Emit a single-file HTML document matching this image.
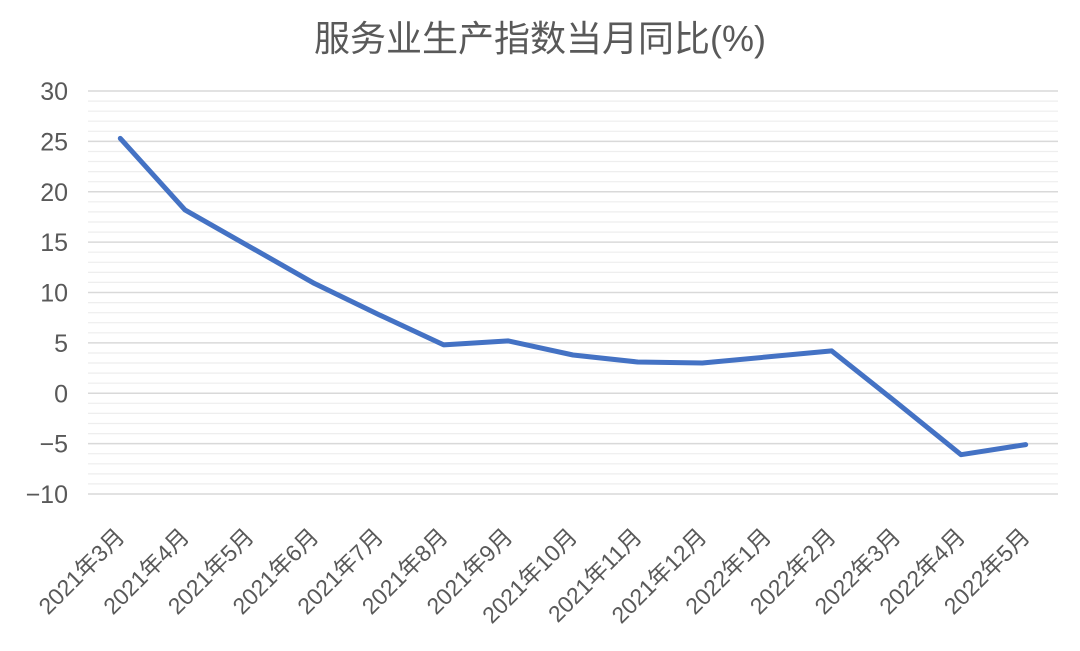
<!DOCTYPE html>
<html>
<head>
<meta charset="utf-8">
<style>
html,body{margin:0;padding:0;background:#fff;}
svg{display:block;}
text{font-family:"Liberation Sans","Noto Sans CJK SC",sans-serif;fill:#595959;}
</style>
</head>
<body>
<svg width="1080" height="651" viewBox="0 0 1080 651" xmlns="http://www.w3.org/2000/svg">
<rect width="1080" height="651" fill="#fff"/>
<text x="540" y="51" text-anchor="middle" style="font-size:36px;font-family:'Liberation Sans','Noto Sans CJK SC',sans-serif;">服务业生产指数当月同比(%)</text>
<g id="minor" stroke="#eeeeee" stroke-width="1.2">
<line x1="88" x2="1058" y1="101.1" y2="101.1"/><line x1="88" x2="1058" y1="111.2" y2="111.2"/><line x1="88" x2="1058" y1="121.2" y2="121.2"/><line x1="88" x2="1058" y1="131.3" y2="131.3"/>
<line x1="88" x2="1058" y1="151.5" y2="151.5"/><line x1="88" x2="1058" y1="161.5" y2="161.5"/><line x1="88" x2="1058" y1="171.6" y2="171.6"/><line x1="88" x2="1058" y1="181.7" y2="181.7"/>
<line x1="88" x2="1058" y1="201.8" y2="201.8"/><line x1="88" x2="1058" y1="211.9" y2="211.9"/><line x1="88" x2="1058" y1="222.0" y2="222.0"/><line x1="88" x2="1058" y1="232.1" y2="232.1"/>
<line x1="88" x2="1058" y1="252.2" y2="252.2"/><line x1="88" x2="1058" y1="262.3" y2="262.3"/><line x1="88" x2="1058" y1="272.4" y2="272.4"/><line x1="88" x2="1058" y1="282.4" y2="282.4"/>
<line x1="88" x2="1058" y1="302.6" y2="302.6"/><line x1="88" x2="1058" y1="312.7" y2="312.7"/><line x1="88" x2="1058" y1="322.7" y2="322.7"/><line x1="88" x2="1058" y1="332.8" y2="332.8"/>
<line x1="88" x2="1058" y1="353.0" y2="353.0"/><line x1="88" x2="1058" y1="363.0" y2="363.0"/><line x1="88" x2="1058" y1="373.1" y2="373.1"/><line x1="88" x2="1058" y1="383.2" y2="383.2"/>
<line x1="88" x2="1058" y1="403.3" y2="403.3"/><line x1="88" x2="1058" y1="413.4" y2="413.4"/><line x1="88" x2="1058" y1="423.5" y2="423.5"/><line x1="88" x2="1058" y1="433.6" y2="433.6"/>
<line x1="88" x2="1058" y1="453.7" y2="453.7"/><line x1="88" x2="1058" y1="463.8" y2="463.8"/><line x1="88" x2="1058" y1="473.9" y2="473.9"/><line x1="88" x2="1058" y1="483.9" y2="483.9"/>
</g>
<g id="major" stroke="#d9d9d9" stroke-width="1.5">
<line x1="88" x2="1058" y1="91" y2="91"/>
<line x1="88" x2="1058" y1="141.4" y2="141.4"/>
<line x1="88" x2="1058" y1="191.8" y2="191.8"/>
<line x1="88" x2="1058" y1="242.1" y2="242.1"/>
<line x1="88" x2="1058" y1="292.5" y2="292.5"/>
<line x1="88" x2="1058" y1="342.9" y2="342.9"/>
<line x1="88" x2="1058" y1="393.3" y2="393.3"/>
<line x1="88" x2="1058" y1="443.6" y2="443.6"/>
<line x1="88" x2="1058" y1="494" y2="494"/>
</g>
<g text-anchor="end" style="font-size:25px;">
<text x="68" y="100">30</text>
<text x="68" y="150.4">25</text>
<text x="68" y="200.8">20</text>
<text x="68" y="251.1">15</text>
<text x="68" y="301.5">10</text>
<text x="68" y="351.9">5</text>
<text x="68" y="402.3">0</text>
<text x="68" y="452.6">−5</text>
<text x="68" y="503">−10</text>
</g>
<polyline fill="none" stroke="#4472c4" stroke-width="5" stroke-linejoin="round" stroke-linecap="round"
points="120.3,138.4 185.0,209.9 314.3,283.4 379.0,314.7 443.7,344.9 508.3,340.9 573.0,355.0 637.7,362.0 702.3,363.0 831.7,350.9 896.3,402.3 961.0,454.7 1025.7,444.6"/>
<g text-anchor="end" style="font-size:23px;">
<text transform="translate(126,538) rotate(-45)">2021年3月</text>
<text transform="translate(190.7,538) rotate(-45)">2021年4月</text>
<text transform="translate(255.3,538) rotate(-45)">2021年5月</text>
<text transform="translate(320,538) rotate(-45)">2021年6月</text>
<text transform="translate(384.7,538) rotate(-45)">2021年7月</text>
<text transform="translate(449.3,538) rotate(-45)">2021年8月</text>
<text transform="translate(514,538) rotate(-45)">2021年9月</text>
<text transform="translate(578.7,538) rotate(-45)">2021年10月</text>
<text transform="translate(643.3,538) rotate(-45)">2021年11月</text>
<text transform="translate(708,538) rotate(-45)">2021年12月</text>
<text transform="translate(772.7,538) rotate(-45)">2022年1月</text>
<text transform="translate(837.3,538) rotate(-45)">2022年2月</text>
<text transform="translate(902,538) rotate(-45)">2022年3月</text>
<text transform="translate(966.7,538) rotate(-45)">2022年4月</text>
<text transform="translate(1031.3,538) rotate(-45)">2022年5月</text>
</g>
</svg>
</body>
</html>
